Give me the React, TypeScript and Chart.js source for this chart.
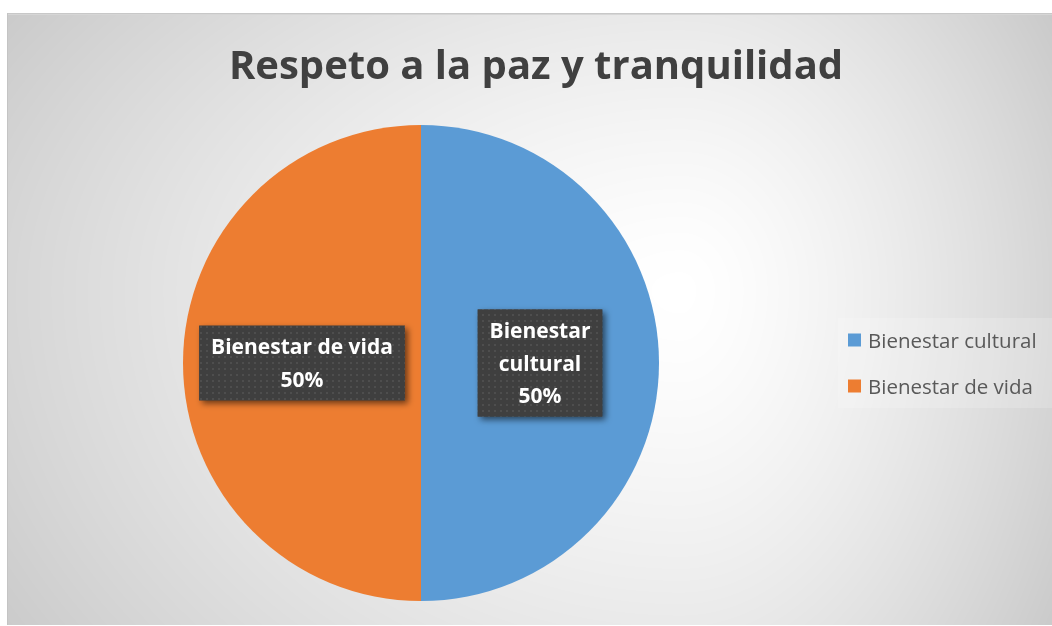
import React, { useEffect, useRef } from "react";
import { Chart, registerables } from "chart.js";

Chart.register(...registerables);

const chartTitle = "Respeto a la paz y tranquilidad";
const categories = ["Bienestar cultural", "Bienestar de vida"];
const values = [50, 50];
const sliceColors = ["#5B9BD5", "#ED7D31"];
const dataLabelNameLines = [["Bienestar", "cultural"], ["Bienestar de vida"]];

const FONT = "'Open Sans', 'DejaVu Sans', sans-serif";
const W = 1052;
const H = 626;

function makeBackground(): HTMLCanvasElement {
  const c = document.createElement("canvas");
  c.width = W;
  c.height = H;
  const g = c.getContext("2d")!;
  const img = g.createImageData(W, H);
  const cx = 680, cy = 290;
  const left = 7, top = 13, bottom = 625;
  for (let y = 0; y < H; y++) {
    for (let x = 0; x < W; x++) {
      const idx = (y * W + x) * 4;
      let v = 255;
      if (x >= left && y >= top && y < bottom) {
        const dx = (x - cx) / (x < cx ? 880 : 480);
        const dy = (y - cy) / (y < cy ? 560 : 700);
        let t = Math.sqrt(dx * dx + dy * dy);
        if (t > 1) t = 1;
        v = 255 - 60 * Math.pow(t, 1.4);
        if (y === top || y === top + 1) v = y === top ? 200 : 214;
        if (x === left) v = Math.min(v, 196);
      }
      img.data[idx] = v;
      img.data[idx + 1] = v;
      img.data[idx + 2] = v;
      img.data[idx + 3] = 255;
    }
  }
  g.putImageData(img, 0, 0);
  return c;
}

function makePattern(ctx: CanvasRenderingContext2D): CanvasPattern | string {
  const p = document.createElement("canvas");
  p.width = 6;
  p.height = 6;
  const g = p.getContext("2d")!;
  g.fillStyle = "#3f3f3f";
  g.fillRect(0, 0, 6, 6);
  g.fillStyle = "#4e4e4e";
  g.fillRect(2, 2, 2, 2);
  return ctx.createPattern(p, "repeat") || "#404040";
}

const decorPlugin = {
  id: "decor",
  beforeDraw(chart: any) {
    const ctx: CanvasRenderingContext2D = chart.ctx;
    if (!chart.$bg) chart.$bg = makeBackground();
    ctx.save();
    ctx.drawImage(chart.$bg, 0, 0);
    // title
    ctx.fillStyle = "#404040";
    ctx.font = `bold 40px ${FONT}`;
    ctx.textAlign = "center";
    ctx.textBaseline = "alphabetic";
    ctx.fillText(chartTitle, 536, 79);
    // legend
    ctx.fillStyle = "rgba(255,255,255,0.18)";
    ctx.fillRect(838, 318, W - 838, 90);
    ctx.font = `20.5px ${FONT}`;
    ctx.textAlign = "left";
    categories.forEach((label, i) => {
      const cyItem = 340 + i * 46;
      ctx.fillStyle = sliceColors[i];
      ctx.fillRect(848, cyItem - 6.5, 13, 13);
      ctx.fillStyle = "#595959";
      ctx.fillText(label, 868, cyItem + 7.5);
    });
    ctx.restore();
  },
  afterDatasetsDraw(chart: any) {
    const ctx: CanvasRenderingContext2D = chart.ctx;
    const meta = chart.getDatasetMeta(0);
    const total = values.reduce((a, b) => a + b, 0);
    const pattern = makePattern(ctx);
    ctx.save();
    ctx.font = `bold 21px ${FONT}`;
    meta.data.forEach((arc: any, i: number) => {
      const pos = arc.tooltipPosition(false);
      const lines = [...dataLabelNameLines[i], Math.round((values[i] / total) * 100) + "%"];
      const lh = 32.5;
      const w = Math.max(...lines.map((l) => ctx.measureText(l).width)) + 24;
      const h = lines.length * lh + 10;
      const bx = pos.x - w / 2;
      const by = pos.y - h / 2;
      ctx.save();
      ctx.shadowColor = "rgba(0,0,0,0.55)";
      ctx.shadowBlur = 6;
      ctx.shadowOffsetX = 3;
      ctx.shadowOffsetY = 3;
      ctx.fillStyle = pattern;
      ctx.fillRect(bx, by, w, h);
      ctx.restore();
      ctx.fillStyle = "#ffffff";
      ctx.textAlign = "center";
      ctx.textBaseline = "alphabetic";
      lines.forEach((l, j) => {
        ctx.fillText(l, pos.x, by + 5 + lh * j + lh / 2 + 7.5);
      });
    });
    ctx.restore();
  },
};

export default function App() {
  const ref = useRef<HTMLCanvasElement>(null);
  useEffect(() => {
    if (!ref.current) return;
    const chart = new Chart(ref.current, {
      type: "pie",
      data: {
        labels: categories,
        datasets: [
          {
            data: values,
            backgroundColor: sliceColors,
            borderWidth: 0,
          },
        ],
      },
      options: {
        responsive: false,
        animation: false,
        devicePixelRatio: 1,
        layout: { padding: { left: 183, right: W - 659, top: 125, bottom: H - 601 } },
        plugins: {
          legend: { display: false },
          title: { display: false },
          tooltip: { enabled: false },
        },
      },
      plugins: [decorPlugin],
    });
    return () => chart.destroy();
  }, []);
  return (
    <div style={{ position: "absolute", left: 0, top: 0, width: W, height: H, overflow: "hidden" }}>
      <canvas ref={ref} width={W} height={H} style={{ width: W, height: H, display: "block" }} />
    </div>
  );
}
